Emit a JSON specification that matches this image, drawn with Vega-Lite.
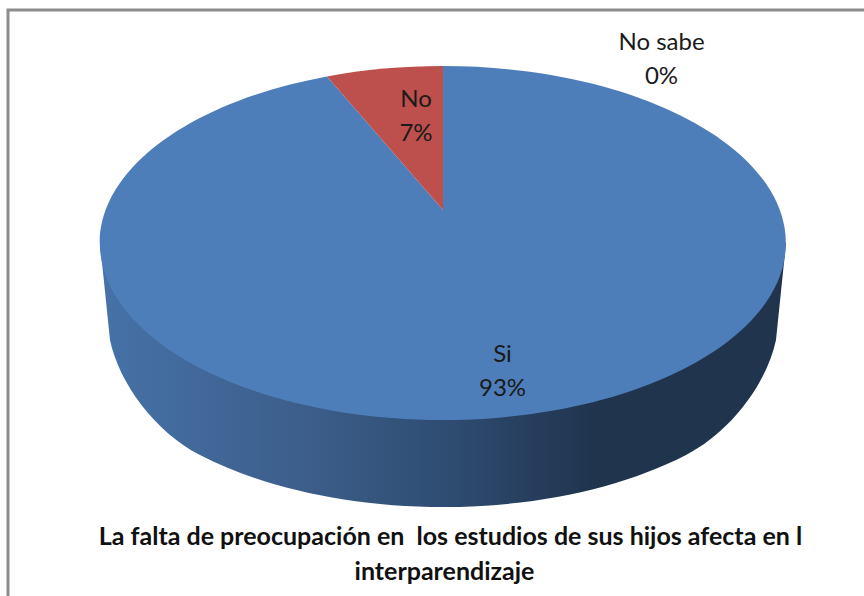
{
  "$schema": "https://vega.github.io/schema/vega-lite/v6.json",
  "width": 860,
  "height": 590,
  "padding": {"left": 8, "top": 10, "right": 0, "bottom": 0},
  "autosize": {"type": "none"},
  "background": "#ffffff",
  "view": {"stroke": "#8c8c8c", "strokeWidth": 3, "fill": "#ffffff"},
  "data": {"values": [
    {"categoria": "Si", "valor": 93, "etiqueta": "Si\n93%"},
    {"categoria": "No", "valor": 7, "etiqueta": "No\n7%"},
    {"categoria": "No sabe", "valor": 0, "etiqueta": "No sabe\n0%"}
  ]},
  "resolve": {"scale": {"x": "independent", "y": "independent"}},
  "layer": [
    {
      "transform": [{"filter": "datum.categoria === 'Si'"}],
      "mark": {
        "type": "point", "filled": true, "opacity": 1, "size": 4, "strokeWidth": 0, "xOffset": 5, "yOffset": -62,
        "shape": "M-343,0 L-333,97 C-324,140 -288,189 -243,212 A343,177 0 0 0 243,212 C288,189 324,140 333,97 L343,0 Z",
        "color": {"x1": 0, "y1": 0, "x2": 1, "y2": 0, "gradient": "linear", "stops": [
          {"offset": 0, "color": "#4672a8"},
          {"offset": 0.3, "color": "#3c5e8a"},
          {"offset": 0.5, "color": "#2f4d73"},
          {"offset": 0.72, "color": "#20344e"},
          {"offset": 1, "color": "#20344e"}
        ]}
      },
      "encoding": {}
    },
    {
      "transform": [{"filter": "datum.valor > 0"}],
      "mark": {"type": "point", "filled": true, "opacity": 1, "size": 4, "strokeWidth": 0, "xOffset": 5, "yOffset": -62},
      "encoding": {
        "shape": {"field": "categoria", "type": "nominal", "legend": null, "scale": {
          "domain": ["Si", "No"],
          "range": [
            "M0,-33 L-116,-166.6 A343,177 0 1 0 0,-177 Z",
            "M0,-33 L-116,-166.6 A343,177 0 0 1 0,-177 Z"
          ]
        }},
        "color": {"field": "categoria", "type": "nominal", "legend": null, "scale": {
          "domain": ["Si", "No"],
          "range": ["#4e7eb9", "#bd504d"]
        }}
      }
    },
    {
      "mark": {"type": "text", "font": "Lato", "fontSize": 24, "lineBreak": "\n", "lineHeight": 34, "align": "center", "baseline": "middle", "color": "#1a1a1a"},
      "encoding": {
        "text": {"field": "etiqueta", "type": "nominal"},
        "x": {"field": "valor", "type": "quantitative", "axis": null, "scale": {"domain": [0, 7, 93], "range": [653.5, 408, 494.5], "zero": false, "nice": false}},
        "y": {"field": "valor", "type": "quantitative", "axis": null, "scale": {"domain": [0, 7, 93], "range": [33, 90, 345], "zero": false, "nice": false}}
      }
    },
    {
      "data": {"values": [
        {"orden": 1, "linea": "La falta de preocupación en \u00a0los estudios de sus hijos afecta en l"},
        {"orden": 2, "linea": "interparendizaje"}
      ]},
      "mark": {"type": "text", "font": "Lato", "fontSize": 25, "fontWeight": "bold", "align": "center", "baseline": "middle", "color": "#111111"},
      "encoding": {
        "text": {"field": "linea", "type": "nominal"},
        "x": {"field": "orden", "type": "quantitative", "axis": null, "scale": {"domain": [1, 2], "range": [442.5, 436.5], "zero": false, "nice": false}},
        "y": {"field": "orden", "type": "quantitative", "axis": null, "scale": {"domain": [1, 2], "range": [527, 562], "zero": false, "nice": false}}
      }
    }
  ]
}
